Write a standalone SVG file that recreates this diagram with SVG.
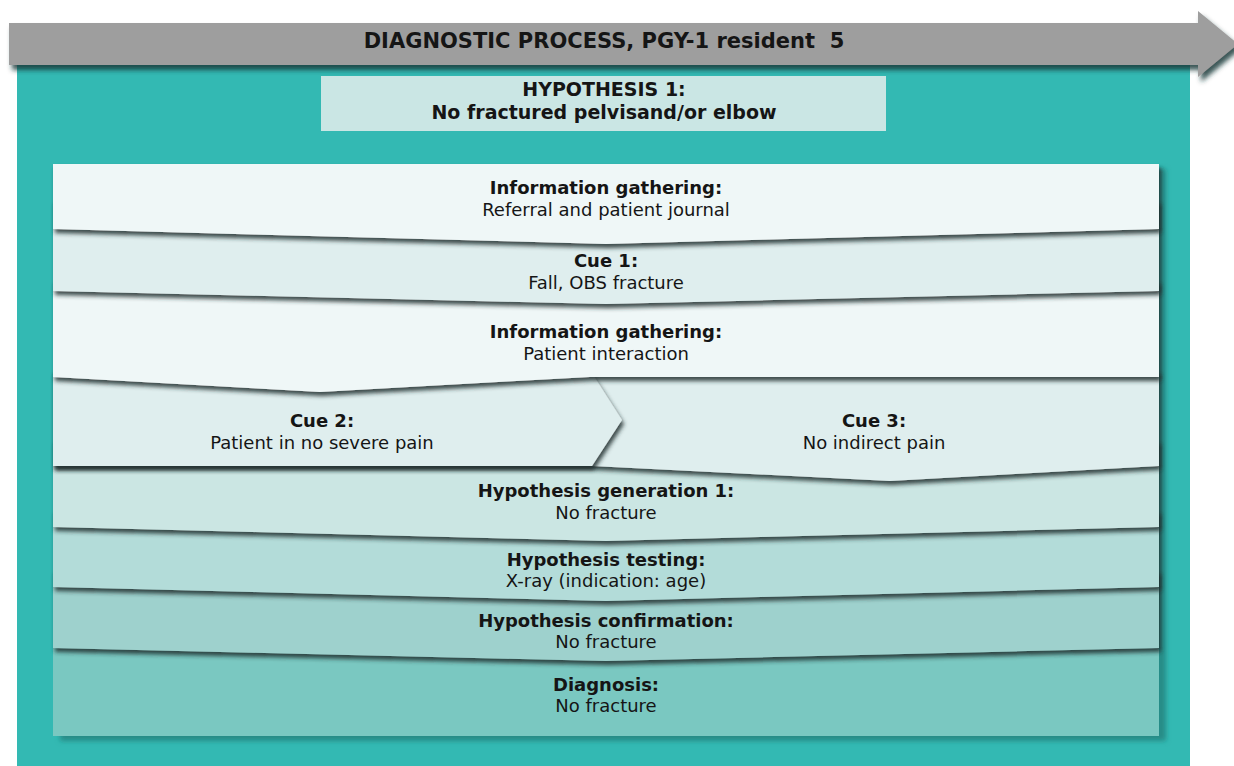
<svg xmlns="http://www.w3.org/2000/svg" width="1234" height="766" viewBox="0 0 1234 766">
  <defs>
    <filter id="layerShadow" x="-5%" y="-20%" width="110%" height="150%">
      <feDropShadow dx="2" dy="4" stdDeviation="2.2" flood-color="#1f2e2e" flood-opacity="0.85"/>
    </filter>
    <filter id="panelShadow" x="-5%" y="-5%" width="110%" height="110%">
      <feDropShadow dx="7" dy="5" stdDeviation="2.5" flood-color="#1f6e6a" flood-opacity="0.6"/>
    </filter>
    <filter id="arrowShadow" x="-5%" y="-50%" width="110%" height="220%">
      <feDropShadow dx="3" dy="5" stdDeviation="2.5" flood-color="#163a38" flood-opacity="0.85"/>
    </filter>
  </defs>
  <style>
    text { font-family: "DejaVu Sans", Verdana, sans-serif; fill: #151515; text-anchor: middle; }
    .b { font-weight: bold; font-size: 18px; }
    .r { font-size: 18px; }
    .hb { font-weight: bold; font-size: 19px; }
    .title { font-weight: bold; font-size: 21px; white-space: pre; }
    .layer { filter: url(#layerShadow); }
    .c1 { fill: #eff7f7; }
    .c2 { fill: #dfeeee; }
    .c3 { fill: #cbe6e3; }
    .c4 { fill: #b3dcd9; }
    .c5 { fill: #9ed1cd; }
    .c6 { fill: #7ac8c1; }
  </style>

  <!-- background -->
  <rect width="1234" height="766" fill="#ffffff"/>
  <rect x="17" y="60" width="1173" height="706" fill="#33b9b3"/>

  <!-- timeline arrow -->
  <g id="process-arrow">
    <polygon points="9,23 1198,23 1198,11 1238,44 1198,77 1198,65 9,65" fill="#9e9e9e" filter="url(#arrowShadow)"/>
    <text class="title" x="604" y="48" xml:space="preserve">DIAGNOSTIC PROCESS, PGY-1 resident  5</text>
  </g>

  <!-- hypothesis banner -->
  <g id="hypothesis-1">
    <rect x="321" y="76" width="565" height="55" fill="#cae6e4"/>
    <text class="hb" x="604" y="96">HYPOTHESIS 1:</text>
    <text class="hb" x="604" y="119">No fractured pelvisand/or elbow</text>
  </g>

  <!-- stacked process panel -->
  <rect id="panel" x="53" y="164" width="1106" height="572" fill="#7ac8c1" filter="url(#panelShadow)"/>

  <g id="diagnosis">
    <polygon class="c6" points="53,630 1159,630 1159,736 53,736"/>
    <text class="b" x="606" y="691">Diagnosis:</text>
    <text class="r" x="606" y="712">No fracture</text>
  </g>

  <g id="hypothesis-confirmation">
    <polygon class="layer c5" points="53,570 1159,570 1159,648 606,661 53,648"/>
    <text class="b" x="606" y="627">Hypothesis confirmation:</text>
    <text class="r" x="606" y="648">No fracture</text>
  </g>

  <g id="hypothesis-testing">
    <polygon class="layer c4" points="53,510 1159,510 1159,587 606,601 53,587"/>
    <text class="b" x="606" y="566">Hypothesis testing:</text>
    <text class="r" x="606" y="587">X-ray (indication: age)</text>
  </g>

  <g id="hypothesis-generation">
    <polygon class="layer c3" points="53,440 1159,440 1159,527 606,541 53,527"/>
    <text class="b" x="606" y="497">Hypothesis generation 1:</text>
    <text class="r" x="606" y="519">No fracture</text>
  </g>

  <g id="cue-3">
    <polygon class="layer c2" points="53,370 1159,370 1159,466 890,481 592,466 53,466"/>
    <text class="b" x="874" y="427">Cue 3:</text>
    <text class="r" x="874" y="449">No indirect pain</text>
  </g>

  <g id="cue-2">
    <polygon class="layer c2" points="53,370 590,370 622,420 592,466 53,466"/>
    <text class="b" x="322" y="427">Cue 2:</text>
    <text class="r" x="322" y="449">Patient in no severe pain</text>
  </g>

  <g id="info-gathering-2">
    <polygon class="layer c1" points="53,280 1159,280 1159,377 590,377 320,392 53,377"/>
    <text class="b" x="606" y="338">Information gathering:</text>
    <text class="r" x="606" y="360">Patient interaction</text>
  </g>

  <g id="cue-1">
    <polygon class="layer c2" points="53,200 1159,200 1159,291 606,304 53,291"/>
    <text class="b" x="606" y="267">Cue 1:</text>
    <text class="r" x="606" y="289">Fall, OBS fracture</text>
  </g>

  <g id="info-gathering-1">
    <polygon class="layer c1" points="53,164 1159,164 1159,229 606,244 53,229"/>
    <text class="b" x="606" y="194">Information gathering:</text>
    <text class="r" x="606" y="216">Referral and patient journal</text>
  </g>

  <!-- no connectors: the flow is shown by the stacked layers -->
  <g id="connectors"/>
</svg>
